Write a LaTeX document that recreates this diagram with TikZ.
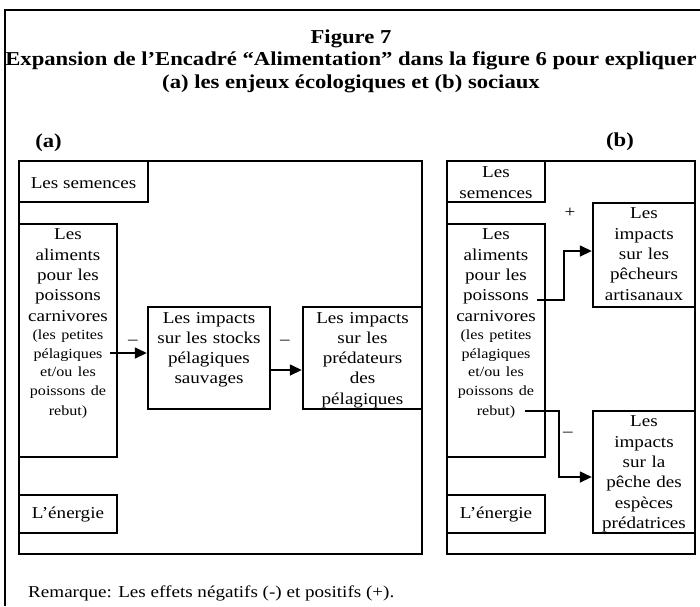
\documentclass[tikz,border=0pt]{standalone}
\usepackage{fontspec}
\setmainfont{Liberation Serif}[FakeStretch=1.15]
\usetikzlibrary{positioning,arrows.meta}

\newcommand{\bodyfont}{\fontsize{16.6}{20.3}\selectfont}
\newcommand{\smallerfont}{\fontsize{14}{18.5}\selectfont}
\newcommand{\titlefont}{\fontsize{19.7}{22.5}\selectfont\bfseries}

\begin{document}
\begin{tikzpicture}[x=1pt,y=-1pt,
  box/.style={draw,line width=2.4pt,inner sep=0pt},
  txt/.style={font=\bodyfont,align=center,inner sep=0pt},
  arr/.style={line width=1.5pt,-{Triangle[length=12pt,width=11pt]}},
  frame/.style={line width=2.6pt}]
\useasboundingbox (0,0) rectangle (700,606);

% Outer frame (only top and left edges show)
\draw[frame] (5,606) -- (5,10) -- (700,10);

% Title
\node[font=\titlefont, align=center] (title) at (351,61) {Figure 7\\Expansion de l’Encadré “Alimentation” dans la figure 6 pour expliquer\\(a) les enjeux écologiques et (b) sociaux};
\node[font=\titlefont] (labA) at (48.5,143) {(a)}; % panel a
\node[font=\titlefont] (labB) at (620,142) {(b)}; % panel b

% Panel (a)
\node[box, minimum width=403pt, minimum height=393pt] (panA) at (220.5,357.5) {};
\node[box, minimum width=129pt, minimum height=41pt] (semA) at (83.5,181.5) {};
\node[txt] (semAtxt) at (83.5,183) {Les semences};
\node[box, minimum width=98pt, minimum height=233pt] (alimA) at (68,340.5) {};
\node[txt, text width=94pt, below=6pt of alimA.north] (alimAtxt) {Les\\aliments\\pour les\\poissons\\carnivores\par\smallerfont (les petites\\pélagiques\\et/ou les\\poissons de\\rebut)};
\node[box, minimum width=98pt, minimum height=38pt] (enA) at (68,514) {};
\node[txt] (enAtxt) at (68,515) {L’énergie};
\node[box, minimum width=122pt, minimum height=102pt] (stocks) at (209,358) {};
\node[txt, text width=118pt, below=6pt of stocks.north] (stockstxt) {Les impacts\\sur les stocks\\pélagiques\\sauvages};
\node[box, minimum width=119pt, minimum height=102pt] (predateurs) at (362.5,358) {};
\node[txt, text width=115pt, below=6pt of predateurs.north] (predateurstxt) {Les impacts\\sur les\\prédateurs\\des\\pélagiques};

% Panel (b)
\node[box, minimum width=248pt, minimum height=393pt] (panB) at (571,357.5) {};
\node[box, minimum width=98pt, minimum height=41pt] (semB) at (496,181.5) {};
\node[txt, text width=94pt, below=7pt of semB.north] (semBtxt) {Les\\semences};
\node[box, minimum width=98pt, minimum height=233pt] (alimB) at (496,340.5) {};
\node[txt, text width=94pt, below=6pt of alimB.north] (alimBtxt) {Les\\aliments\\pour les\\poissons\\carnivores\par\smallerfont (les petites\\pélagiques\\et/ou les\\poissons de\\rebut)};
\node[box, minimum width=98pt, minimum height=38pt] (enB) at (496,514) {};
\node[txt] (enBtxt) at (496,515) {L’énergie};
\node[box, minimum width=102pt, minimum height=104pt] (pecheurs) at (644,255) {};
\node[txt, text width=98pt, below=6pt of pecheurs.north] (pecheurstxt) {Les\\impacts\\sur les\\pêcheurs\\artisanaux};
\node[box, minimum width=102pt, minimum height=122pt] (pechePred) at (644,472) {};
\node[txt, text width=98pt, below=6pt of pechePred.north] (pechePredtxt) {Les\\impacts\\sur la\\pêche des\\espèces\\prédatrices};

% Arrows
\coordinate (fromA) at (110,353);
\coordinate (fromB1) at (537,300);
\coordinate (fromB2) at (525,411);
\draw[arr] (fromA) -- (fromA -| stocks.west);
\draw[arr] ([yshift=-12pt]stocks.east) -- ([yshift=-12pt]predateurs.west);
\draw[arr] (fromB1) -- ++(27,0) |- ([yshift=4pt]pecheurs.west);
\draw[arr] (fromB2) -- ++(34,0) |- ([yshift=-5pt]pechePred.west);

% Signs
\node[txt] (signA1) at (133,342) {–};
\node[txt] (signA2) at (285,342) {–};
\node[txt] (signB1) at (570,213) {+};
\node[txt] (signB2) at (568,434) {–};

% Note
\node[txt, anchor=west] (note) at (28,593) {Remarque: Les effets négatifs (-) et positifs (+).};

\end{tikzpicture}
\end{document}
